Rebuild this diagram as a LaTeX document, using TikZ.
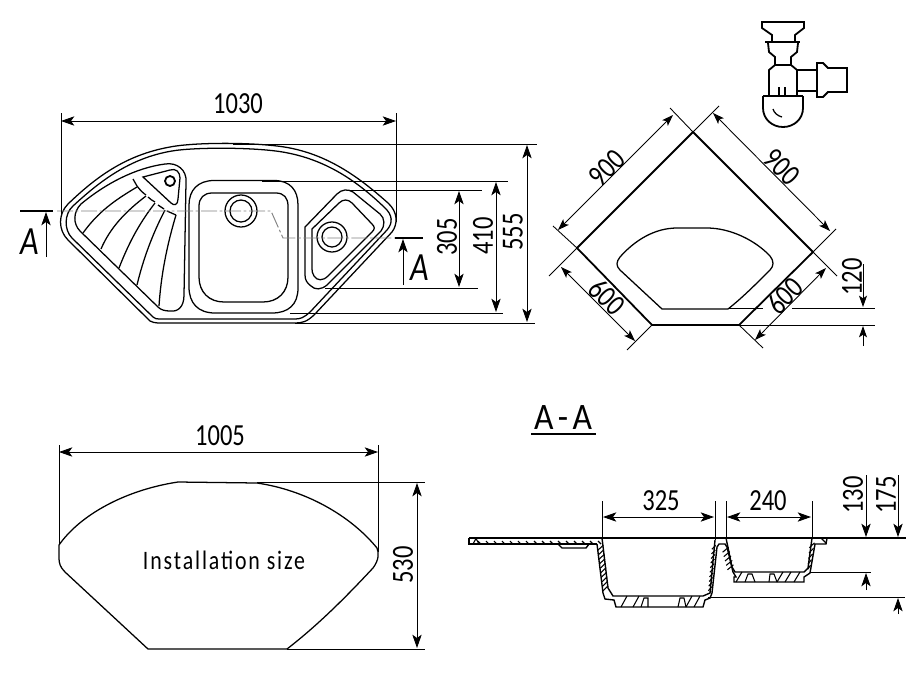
\documentclass[tikz,border=0pt]{standalone}
\usepackage{fontspec}
\setmainfont[FakeStretch=0.8]{Carlito}
\newfontfamily\spacedfont[FakeStretch=0.82,LetterSpace=7]{Carlito}
\newfontfamily\titlefont[FakeStretch=0.9,LetterSpace=12]{Carlito}
\usetikzlibrary{arrows.meta}
\tikzset{
  bigtip/.tip={Stealth[length=10pt,width=7pt,inset=2.5pt]},
  smalltip/.tip={Stealth[length=8.5pt,width=6pt,inset=2pt]},
  dimline/.style={line width=0.65pt,black},
  dimarrow/.style={dimline,{bigtip}-{bigtip}},
  dimarrowsmall/.style={dimline,{smalltip}-{smalltip}},
  onearrow/.style={dimline,-{bigtip}},
  onearrowsmall/.style={dimline,-{smalltip}},
  contour/.style={line width=0.95pt,black},
  contourthick/.style={line width=1.35pt,black},
  sectioncontour/.style={line width=1.05pt,black},
  hatchline/.style={line width=0.8pt,black},
  dimtext/.style={font=\fontsize{23}{23}\selectfont,inner sep=0pt,black},
  cuttext/.style={font=\fontsize{30}{30}\selectfont\itshape,inner sep=0pt,black},
  sectionaxis/.style={line width=0.7pt,black!50,dash pattern=on 12pt off 2pt on 2pt off 2pt},
  cutmark/.style={line width=1.2pt,black},
}
\begin{document}
\begin{tikzpicture}[x=0.75pt,y=-0.75pt]
\useasboundingbox (0,0) rectangle (920,672);
% ---------- plan view
\draw[contour] (150,321) -- (68,240) .. controls (58,230) and (58,214) .. (68,204) .. controls (95,178) and (125,155) .. (170,147) .. controls (195,142) and (260,142) .. (290,148) .. controls (330,156) and (360,178) .. (388,203) .. controls (398,212) and (398,224) .. (392,232) -- (315,314) .. controls (307,322) and (302,323) .. (295,323) -- (158,323) .. controls (155,323) and (152,322) .. (150,321) -- cycle;
\draw[contour] (153,317) -- (72,238) .. controls (64,230) and (64,214) .. (73,206) .. controls (100,181) and (130,158) .. (172,151) .. controls (195,147) and (260,147) .. (288,153) .. controls (328,161) and (358,182) .. (384,207) .. controls (393,215) and (393,223) .. (387,230) -- (311,311) .. controls (304,318) and (300,319) .. (295,319) -- (160,319) .. controls (157,319) and (155,319) .. (153,317) -- cycle;
% drainer
\draw[contour] (158,307) -- (80,231) .. controls (73,224) and (73,212) .. (81,204) .. controls (105,184) and (135,168) .. (165,164) .. controls (177,162) and (187,170) .. (186,182) -- (184,295) .. controls (184,307) and (178,312) .. (170,311) .. controls (165,311) and (161,310) .. (158,307) -- cycle;
\draw[contour] (143,177) -- (170,170) .. controls (176,168) and (180,172) .. (180,178) -- (178,199) .. controls (178,205) and (174,206) .. (171,203) -- cycle;
\draw[contourthick] (170,181) circle (5);
\draw[contour] (133,179) -- (137,186);
\draw[contour] (137,186) .. controls (140,190) and (143,193) .. (146,195);
\draw[contour] (148,197) .. controls (150,199) and (153,201) .. (155,202);
\draw[contour] (158,205) -- (164,209);
\draw[contour] (167,211) -- (176,215);
\draw[contour] (137,187) .. controls (115,200) and (98,212) .. (83,233);
\draw[contour] (146,196) .. controls (125,212) and (110,228) .. (101,249);
\draw[contour] (155,203) .. controls (138,225) and (128,245) .. (119,268);
\draw[contour] (165,210) .. controls (152,235) and (143,260) .. (137,285);
\draw[contour] (176,215) .. controls (167,245) and (161,275) .. (159,306);
% large bowl
\draw[contour] (214,180.5) -- (274,180.5) .. controls (290,180.5) and (298,190) .. (298,205) -- (298,288) .. controls (298,305) and (288,313) .. (272,313) -- (215,313) .. controls (198,313) and (189,303) .. (189,287) -- (189,205) .. controls (189,190) and (198,180.5) .. (214,180.5) -- cycle;
\draw[contour] (212,193) -- (276,193) .. controls (284,193) and (288,198) .. (288,206) -- (288,277) .. controls (288,292) and (278,302) .. (263,302) -- (224,302) .. controls (209,302) and (199,292) .. (199,277) -- (199,206) .. controls (199,198) and (204,193) .. (212,193) -- cycle;
\draw[contour] (241,211) circle (16);
\draw[contour] (241,211) circle (11);
% small bowl
\draw[contour] (305,227) -- (337,194) .. controls (342,189) and (348,189) .. (353,192) -- (380,214) .. controls (385,218) and (385,226) .. (381,231) -- (327,285) .. controls (321,290) and (315,290) .. (311,286) .. controls (307,283) and (305,280) .. (305,275) -- cycle;
\draw[contour] (312,229) -- (339,203) .. controls (343,199) and (348,199) .. (352,203) -- (372,224) .. controls (375,227) and (375,229) .. (372,232) -- (328,276) .. controls (323,281) and (317,281) .. (314,276) .. controls (312,273) and (312,271) .. (312,268) -- cycle;
\draw[contour] (332,237) circle (15);
\draw[contour] (332,237) circle (10);
% section line
\draw[sectionaxis] (57,211) -- (271,211) -- (283,238) -- (395,238);
\draw[cutmark] (20,211) -- (53,211);
\draw[cutmark] (395,238) -- (423,238);
\draw[onearrow] (46,257) -- (46,212);
\draw[onearrow] (403,285) -- (403,239);
\node[cuttext] (cutA) at (30,242) {A};
\node[cuttext] (cutB) at (420,268) {A};
% plan dimensions
\draw[dimline] (61,113) -- (61,215);
\draw[dimline] (396,113) -- (396,222);
\draw[dimarrow] (61,121) -- (396,121);
\node[dimtext] (d1030) at (238,104) {1030};
\draw[dimline] (233,144) -- (537,144);
\draw[dimline] (295,323) -- (535,323);
\draw[dimarrow] (527,145) -- (527,322);
\node[dimtext,rotate=90] (d555) at (513,232) {555};
\draw[dimline] (262,181) -- (508,181);
\draw[dimline] (290,313) -- (503,313);
\draw[dimarrow] (496,182) -- (496,312);
\node[dimtext,rotate=90] (d410) at (483,236) {410};
\draw[dimline] (350,190) -- (482,190);
\draw[dimline] (325,288) -- (478,288);
\draw[dimarrow] (459,191) -- (459,287);
\node[dimtext,rotate=90] (d305) at (447,237) {305};
% ---------- cabinet view
\draw[contourthick] (693,132) -- (577,248) -- (652,325) -- (739,325) -- (813,252) -- cycle;
\draw[contour] (662,309) -- (620,270) .. controls (616,266) and (616,262) .. (620,257) .. controls (635,240) and (655,228) .. (677,228) -- (707,228) .. controls (730,228) and (755,240) .. (770,256) .. controls (774,261) and (774,266) .. (770,270) .. controls (755,285) and (742,298) .. (728,309) -- cycle;
\draw[dimline] (670,108) -- (693,132) (813,252) -- (837,276);
\draw[dimline] (719,106) -- (693,132) (577,248) -- (549,276);
\draw[dimline] (553,226) -- (577,248);
\draw[dimline] (652,325) -- (627,350);
\draw[dimline] (739,325) -- (763,348);
\draw[dimline] (813,252) -- (836,229);
\draw[dimarrowsmall] (558,230) -- (673,115);
\draw[dimarrowsmall] (713,113) -- (830,231);
\draw[dimarrowsmall] (561,267) -- (635,341);
\draw[dimarrowsmall] (826,268) -- (755,340);
\node[dimtext,rotate=45] (d900a) at (607,168) {900};
\node[dimtext,rotate=-45] (d900b) at (782,167) {900};
\node[dimtext,rotate=-45] (d600a) at (607,297) {600};
\node[dimtext,rotate=45] (d600b) at (785,296) {600};
\draw[dimline] (728,308) -- (763,308) (792,308) -- (875,308);
\draw[dimline] (739,325) -- (875,325);
\draw[onearrowsmall] (863,264) -- (863,307);
\draw[onearrowsmall] (863,346) -- (863,326);
\node[dimtext,rotate=90] (d120) at (852,277) {120};
% ---------- siphon
\draw[contourthick,line join=miter] (762,22) -- (804,22) -- (804,28) -- (795,35) -- (795,42) -- (772,42) -- (772,35) -- (762,28) -- cycle;
\draw[contourthick] (765,42) -- (800,42);
\draw[contourthick] (768,43) -- (769,52) -- (775,57) -- (775,65) -- (769,70) -- (769,96);
\draw[contourthick] (798,43) -- (797,52) -- (791,57) -- (791,65) -- (797,70) -- (797,96);
\draw[contourthick] (775,65) -- (791,65);
\draw[contourthick] (797,70) -- (817,70) (797,91) -- (817,91);
\draw[contourthick] (817,63) -- (823,63) -- (828,68) -- (847,68) -- (847,92) -- (828,92) -- (823,97) -- (817,97) -- cycle;
\draw[contourthick] (763,96) -- (803,96);
\draw[contourthick] (763,96) -- (763,108) .. controls (763,119) and (772,127) .. (783,127) .. controls (794,127) and (803,119) .. (803,108) -- (803,96);
\draw[contourthick] (779,87) -- (779,96) (785,87) -- (785,96);
\draw[contour] (773,109) .. controls (774,113) and (778,116) .. (782,117);
% ---------- section title
\node[dimtext,font=\fontsize{28}{28}\titlefont] (title) at (563,418) {A-A};
\draw[cutmark] (531,434) -- (596,434);
% ---------- installation size
\draw[contour] (148,649) -- (65,572) .. controls (60,567) and (59,563) .. (59,558) -- (59,545) .. controls (80,515) and (125,490) .. (178,482) -- (257,483) .. controls (305,490) and (350,515) .. (377,548) .. controls (379,553) and (379,560) .. (373,568) .. controls (345,598) and (318,625) .. (287,649) -- cycle;
\draw[dimline] (59,445) -- (59,545);
\draw[dimline] (378,445) -- (378,552);
\draw[dimarrow] (59,452) -- (378,452);
\node[dimtext] (d1005) at (220,436) {1005};
\draw[dimline] (257,482) -- (425,482);
\draw[dimline] (287,649) -- (425,649);
\draw[dimarrow] (417,483) -- (417,648);
\node[dimtext,rotate=90] (d530) at (403,565) {530};
\node[dimtext,font=\fontsize{20}{20}\spacedfont] (install) at (224,560) {Installation size};
% ---------- section A-A
\draw[sectioncontour] (469,538) -- (906,538);
\draw[sectioncontour] (469,538) -- (469,544) -- (597,544);
\draw[sectioncontour] (558,544) -- (562,548) -- (586,548) -- (589,544);
\foreach \x in {478,486,...,598} {\draw[hatchline] (\x,541) -- (\x+3,544);}
\draw[hatchline] (473,544) -- (476,538.5) -- (479,544);
% bowl walls and floor
\draw[sectioncontour] (602,538) -- (608,588) -- (613,596) -- (703,596) -- (710,593) -- (715,540);
\draw[sectioncontour] (597,544) -- (603,593) -- (605,599) -- (614,600) -- (616,607) -- (703,607) -- (705,600) -- (710,598) -- (712,593) -- (717,547) -- (719,544) -- (725,544) -- (727,547) -- (733,572) -- (736,577) -- (734,577) -- (734,582) -- (804,582) -- (804,577) -- (810,573) -- (815,544) -- (826,544) -- (827,538);
\draw[sectioncontour] (726,538) -- (732,567) -- (735,572) -- (804,572) -- (808,568) -- (812,538);
\foreach \t in {0.05,0.15,...,0.98} {\draw[hatchline] ({597.5+\t*6},{548+\t*45}) -- ({603+\t*5.5},{543+\t*45});}
\foreach \t in {0.05,0.15,...,0.98} {\draw[hatchline] ({712-\t*3.8},{547+\t*46}) -- ({716-\t*4.5},{543+\t*46});}
\foreach \t in {0.1,0.3,...,0.95} {\draw[hatchline] ({722+\t*6},{550+\t*22}) -- ({728+\t*6},{545+\t*22});}
\foreach \t in {0.1,0.3,...,0.95} {\draw[hatchline] ({809.5-\t*2},{545+\t*27}) -- ({815-\t*5},{540+\t*28});}
\foreach \x in {621,633,686,694} {\draw[hatchline] (\x,607) -- (\x+6,596);}
\draw[hatchline] (641,607) -- (644,598) -- (648,598) -- (648,607);
\draw[hatchline] (678,607) -- (680,598) -- (684,598) -- (686,607);
\foreach \x in {736,777,785,794} {\draw[hatchline] (\x,582) -- (\x+6,572);}
\draw[hatchline] (745,582) -- (748,574) -- (752,574) -- (755,582);
\draw[hatchline] (769,582) -- (770,574) -- (774,574) -- (777,582);
\draw[hatchline] (821,538) -- (826,543);
% section dimensions
\draw[dimline] (602,501) -- (602,540);
\draw[dimline] (715,501) -- (715,540);
\draw[dimline] (726,501) -- (726,540);
\draw[dimline] (812,501) -- (812,538);
\draw[dimarrow] (603,517) -- (714,517);
\draw[dimarrow] (727,517) -- (811,517);
\node[dimtext] (d325) at (661,501) {325};
\node[dimtext] (d240) at (768,501) {240};
\draw[dimline] (811,572) -- (871,572);
\draw[dimline] (708,597) -- (905,597);
\draw[onearrow] (866,475) -- (866,537);
\draw[onearrow] (866,590) -- (866,573);
\draw[onearrow] (898,475) -- (898,537);
\draw[onearrow] (898,614) -- (898,598);
\node[dimtext,rotate=90] (d130) at (853,495) {130};
\node[dimtext,rotate=90] (d175) at (886,495) {175};
\end{tikzpicture}
\end{document}
